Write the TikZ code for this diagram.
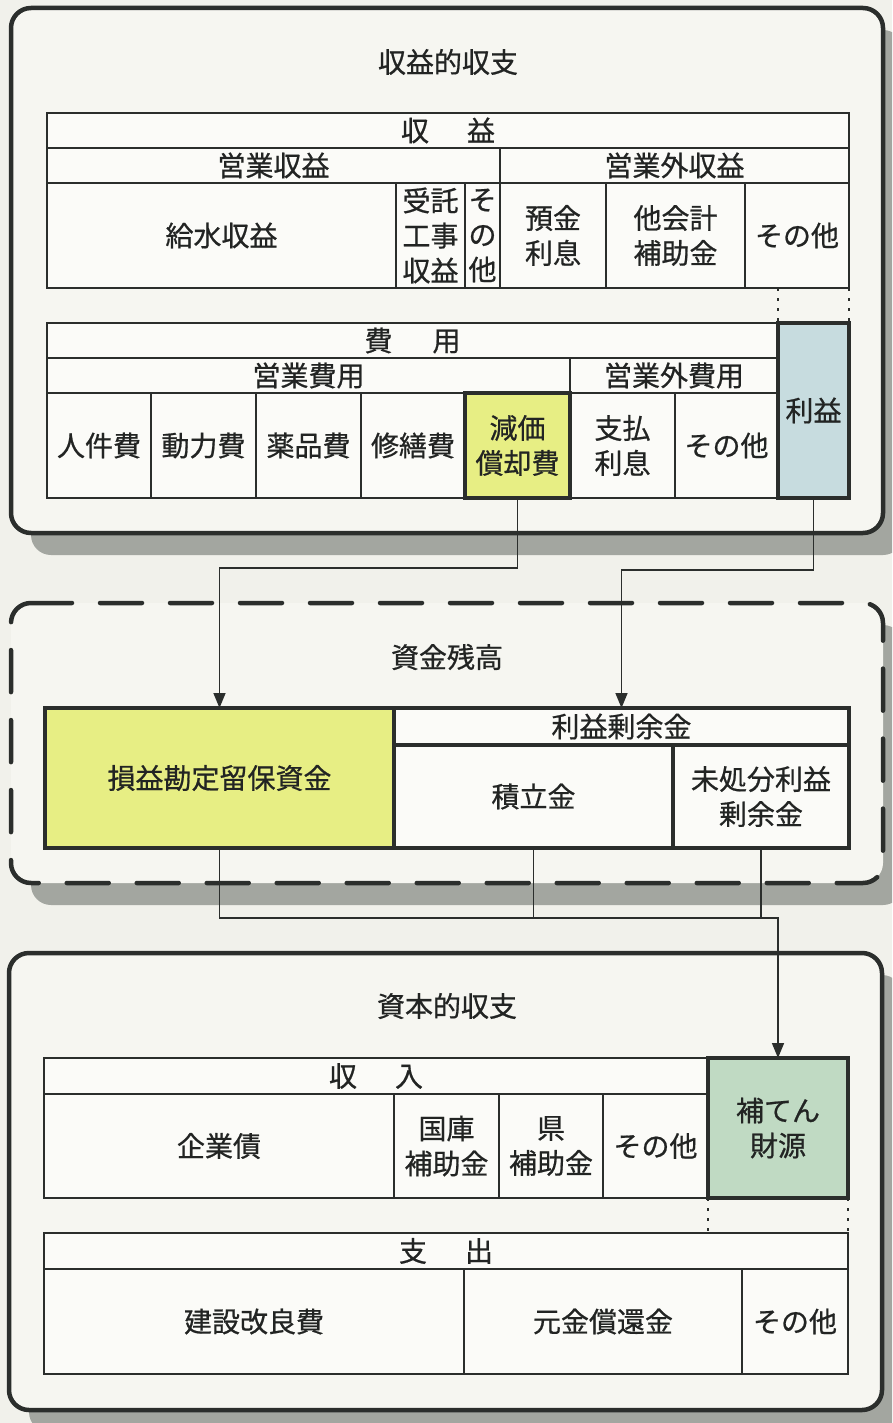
\documentclass[tikz,border=0pt]{standalone}
\usepackage{fontspec}
\newfontfamily\jp[FakeBold=0.7]{Noto Sans CJK JP}
\usetikzlibrary{arrows.meta}
\definecolor{pagebg}{HTML}{F1F1EB}
\definecolor{boxbg}{HTML}{F6F6F1}
\definecolor{cellbg}{HTML}{FBFBF8}
\definecolor{ink}{HTML}{2B2E2C}
\definecolor{txt}{HTML}{222423}
\definecolor{shade}{HTML}{A3A6A0}
\definecolor{yel}{HTML}{E7EE84}
\definecolor{blu}{HTML}{C7DCDF}
\definecolor{grn}{HTML}{C0DAC3}
\tikzset{
  panel/.style={draw=ink, line width=4.5pt, fill=boxbg, rounded corners=20pt},
  dpanel/.style={draw=ink, line width=4.5pt, rounded corners=20pt, dash pattern=on 42pt off 28pt, line cap=round},
  shadowbox/.style={fill=shade, rounded corners=20pt},
  cell/.style={draw=ink, line width=1.8pt, fill=cellbg, inner sep=0pt, outer sep=0pt, align=center, text=txt, font=\jp\fontsize{28}{35}\selectfont},
  hot/.style={line width=4.5pt},
  title/.style={text=txt, font=\jp\fontsize{28}{35}\selectfont, inner sep=0pt},
  conn/.style={draw=ink, line width=1.6pt},
  arr/.style={conn, -{Triangle[length=15pt,width=12pt]}},
  dotl/.style={draw=ink, line width=1.8pt, dash pattern=on 3pt off 7pt},
}
\newcommand\mkcell[7][]{\node[cell,#1,minimum width={(#5)-(#3)},minimum height={(#6)-(#4)}] (#2) at ({((#3)+(#5))/2},{((#4)+(#6))/2}) {#7};}
\begin{document}
\begin{tikzpicture}[x=1pt,y=-1pt]
\fill[pagebg] (0,0) rectangle (892,1423);
\useasboundingbox (0,0) rectangle (892,1423);
\clip (0,0) rectangle (892,1423);
% shadows
\fill[shadowbox] (31,30) rectangle (903,555);
\fill[shadowbox] (31,625) rectangle (903,905);
\fill[shadowbox] (29,975) rectangle (902,1432);
% panels
\path[panel] (11,8) rectangle (883,533);
\path[fill=boxbg, rounded corners=20pt] (11,603) rectangle (883,883);
\draw[dpanel] (30,603) -- (883,603) -- (883,883) -- (11,883) -- (11,603) -- (30,603);
\path[panel] (9,953) rectangle (882,1410);
% titles
\node[title] (t1) at (448,62) {収益的収支};
\node[title] (t2) at (447,657) {資金残高};
\node[title] (t3) at (447,1006) {資本的収支};
% revenue table
\mkcell{shueki}{47}{113}{849}{148}{収\hspace{38pt}益}
\mkcell{eigyoshueki}{47}{148}{500}{183}{営業収益}
\mkcell{eigyogaishueki}{500}{148}{849}{183}{営業外収益}
\mkcell{kyusui}{47}{183}{396}{288}{給水収益}
\mkcell{jutaku}{396}{183}{465}{288}{受託\\工事\\収益}
\mkcell{sonota1}{465}{183}{500}{288}{そ\\の\\他}
\mkcell{yokin}{500}{183}{606}{288}{預金\\利息}
\mkcell{takaikei}{606}{183}{745}{288}{他会計\\補助金}
\mkcell{sonota2}{745}{183}{849}{288}{その他}
% expense table
\mkcell{hiyo}{47}{323}{778}{358}{費\hspace{40pt}用}
\mkcell{eigyohiyo}{47}{358}{570}{393}{営業費用}
\mkcell{eigyogaihiyo}{570}{358}{778}{393}{営業外費用}
\mkcell{jinken}{47}{393}{151}{498}{人件費}
\mkcell{doryoku}{151}{393}{256}{498}{動力費}
\mkcell{yakuhin}{256}{393}{361}{498}{薬品費}
\mkcell{shuzen}{361}{393}{465}{498}{修繕費}
\mkcell{shiharai}{570}{393}{675}{498}{支払\\利息}
\mkcell{sonota3}{675}{393}{778}{498}{その他}
\mkcell[hot,fill=yel]{genka}{465}{393}{570}{498}{減価\\償却費}
\mkcell[hot,fill=blu]{rieki}{778}{323}{849}{498}{利益}
\draw[dotl] (rieki.north west |- sonota2.south) -- (rieki.north west);
\draw[dotl] (rieki.north east |- sonota2.south) -- (rieki.north east);
% fund balance table
\mkcell[hot,fill=yel]{sonneki}{45}{708}{394}{848}{損益勘定留保資金}
\mkcell[hot]{riekijoyo}{394}{708}{849}{745}{利益剰余金}
\mkcell[hot]{tsumitate}{394}{745}{673}{848}{積立金}
\mkcell[hot]{mishobun}{673}{745}{849}{848}{未処分利益\\剰余金}
% capital income table
\mkcell{shunyu}{44}{1058}{708}{1094}{収\hspace{38pt}入}
\mkcell{kigyosai}{44}{1094}{394}{1198}{企業債}
\mkcell{kokko}{394}{1094}{499}{1198}{国庫\\補助金}
\mkcell{ken}{499}{1094}{603}{1198}{県\\補助金}
\mkcell{sonota4}{603}{1094}{708}{1198}{その他}
\mkcell[hot,fill=grn]{hoten}{708}{1058}{848}{1198}{補てん\\財源}
\mkcell{shishutsu}{44}{1233}{848}{1269}{支\hspace{38pt}出}
\mkcell{kensetsu}{44}{1269}{464}{1374}{建設改良費}
\mkcell{gankin}{464}{1269}{742}{1374}{元金償還金}
\mkcell{sonota5}{742}{1269}{848}{1374}{その他}
\draw[dotl] (hoten.south west) -- (hoten.south west |- shishutsu.north);
\draw[dotl] (hoten.south east) -- (hoten.south east |- shishutsu.north);
% connectors
\draw[arr] (genka.south) -- ++(0,70) -| (sonneki.north);
\draw[arr] (rieki.south) -- ++(0,72) -| (riekijoyo.north);
\path (sonneki.south) ++(0,70) coordinate (junc);
\draw[arr] (sonneki.south) -- (junc) -| (hoten.north);
\draw[conn] (tsumitate.south) -- (tsumitate.south |- junc);
\draw[conn] (mishobun.south) -- (mishobun.south |- junc);
\end{tikzpicture}
\end{document}
